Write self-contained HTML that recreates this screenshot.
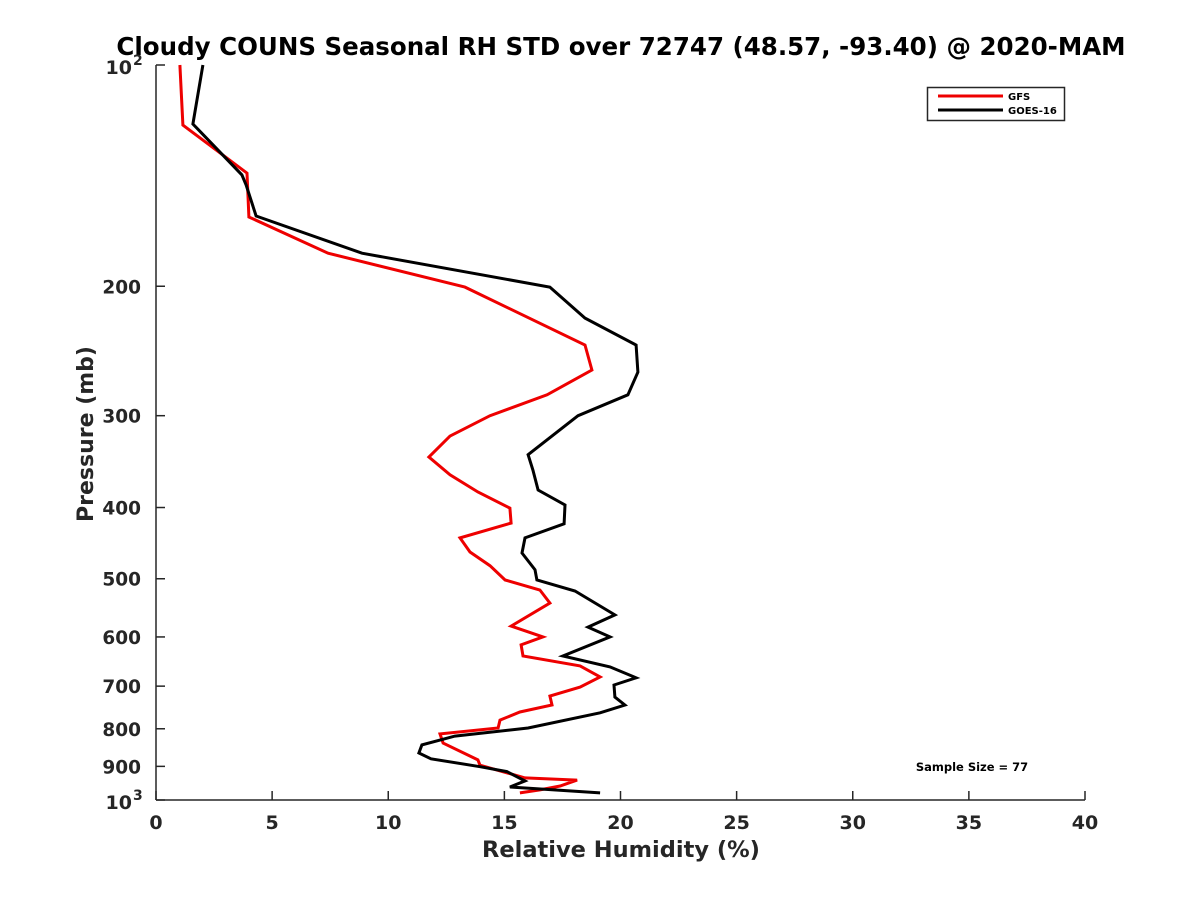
<!DOCTYPE html>
<html><head><meta charset="utf-8"><style>
body{margin:0;background:#fff;}
svg text{font-family:"DejaVu Sans","Liberation Sans",sans-serif;font-weight:bold;fill:#262626;}
</style></head><body>
<svg id="chart" width="1200" height="900" xmlns="http://www.w3.org/2000/svg">
<rect width="1200" height="900" fill="#fff"/>
<text x="621" y="55" text-anchor="middle" font-size="24.5" style="fill:#000">Cloudy COUNS Seasonal RH STD over 72747 (48.57, -93.40) @ 2020-MAM</text>
<g id="axes"></g>
<g id="series"></g>
<text x="621" y="857" text-anchor="middle" font-size="22.5">Relative Humidity (%)</text>
<text transform="translate(93,434) rotate(-90)" text-anchor="middle" font-size="22">Pressure (mb)</text>
<g>
<rect x="927.5" y="87.5" width="137" height="33" fill="#fff" stroke="#262626" stroke-width="1.5"/>
<line x1="938" y1="96" x2="1003" y2="96" stroke="#e00" stroke-width="3"/>
<text x="1008" y="100" font-size="10" style="fill:#000">GFS</text>
<line x1="938" y1="110" x2="1003" y2="110" stroke="#000" stroke-width="3"/>
<text x="1008" y="114" font-size="10" style="fill:#000">GOES-16</text>
</g>
<text x="972" y="771" text-anchor="middle" font-size="11.5" style="fill:#000">Sample Size = 77</text>
</svg>
<script>
const xTicks=[0,5,10,15,20,25,30,35,40];
const yTicks=[200,300,400,500,600,700,800,900];
const gfsRH=[1.03,1.16,3.92,4.00,7.41,13.30,18.47,18.77,16.84,14.38,12.66,11.75,12.66,13.86,15.24,15.29,13.09,13.52,14.38,15.03,16.53,16.96,15.29,16.66,15.72,15.80,18.26,19.12,18.26,16.96,17.05,15.67,14.81,14.73,12.23,12.36,13.86,13.95,15.89,18.13,17.40,16.53,15.67];
const gfsP=[100,120.7,140.3,161,180.3,200.5,240.4,260,281,300,319.8,341.5,361,381,400.7,420,440,459.8,480,502,518,539.7,580,600,615,637,657,680,702,722,742.5,759,778.5,798,813,836.7,882,896.6,933,939.5,957,969,978];
const goesRH=[2.02,1.59,3.70,3.88,4.31,8.87,16.96,18.47,20.67,20.75,20.32,18.17,16.02,16.23,16.45,17.61,17.57,15.89,15.76,16.32,16.40,18.04,19.76,18.60,19.55,17.52,19.55,20.67,19.72,19.76,20.19,19.12,16.02,12.87,11.45,11.32,11.84,13.95,15.11,15.89,15.24,19.12];
const goesP=[100,120.3,141.1,145.6,160.5,180.3,200.5,221,240.4,261.7,281,300,339,355.6,378.7,396.9,421,440,461.3,486,502,519.5,560,581.7,600,637,659,682,697.5,724.4,742.5,761,798,818.6,841.5,863,879,901,915,942,960,978];

const X0=156,X1=1085,Y0=65,Y1=800;
const xs=v=>X0+(v-0)/(40-0)*(X1-X0);
const ys=p=>Y0+(Math.log10(p)-2)*(Y1-Y0);
const NS='http://www.w3.org/2000/svg';
function mk(tag,attrs,parent){const e=document.createElementNS(NS,tag);for(const k in attrs)e.setAttribute(k,attrs[k]);parent.appendChild(e);return e;}
const axes=document.getElementById('axes');
let e;
e=mk('line',{x1:X0,y1:Y0,x2:X0,y2:Y1,stroke:'#262626','stroke-width':1.5},axes);


e=mk('line',{x1:X0,y1:Y1,x2:X1,y2:Y1,stroke:'#262626','stroke-width':1.5},axes);


xTicks.forEach(t=>{
  const x=xs(t);
  e=mk('line',{x1:x,y1:Y1,x2:x,y2:Y1-9,stroke:'#262626','stroke-width':1.5},axes);
  
  
  e=mk('text',{x:x,y:Y1+29,'text-anchor':'middle','font-size':19},axes);
  e.textContent=t;
  
  
});
[100,1000].concat(yTicks).forEach(p=>{
  const y=ys(p);
  e=mk('line',{x1:X0,y1:y,x2:X0+9,y2:y,stroke:'#262626','stroke-width':1.5},axes);
  
  
});
yTicks.forEach(p=>{
  const y=ys(p);
  e=mk('text',{x:X0-15,y:y+7,'text-anchor':'end','font-size':18.5},axes);
  e.textContent=p;
  
  
});
[[100,'2'],[1000,'3']].forEach(([p,s])=>{
  const y=ys(p);
  e=mk('text',{x:X0-24,y:y+9,'text-anchor':'end','font-size':19},axes);
  e.textContent='10';
  
  
  e=mk('text',{x:X0-23,y:y,'font-size':14},axes);
  e.textContent=s;
  
  
});
const series=document.getElementById('series');
function drawLine(vals,ps,color,name){
  const pts=vals.map((v,i)=>xs(v).toFixed(1)+','+ys(ps[i]).toFixed(1)).join(' ');
  const l=mk('polyline',{points:pts,fill:'none',stroke:color,'stroke-width':3,'stroke-linejoin':'miter'},series);
  
  
}
drawLine(gfsRH,gfsP,'#e00','gfs-line');
drawLine(goesRH,goesP,'#000','goes16-line');
</script>
</body></html>
